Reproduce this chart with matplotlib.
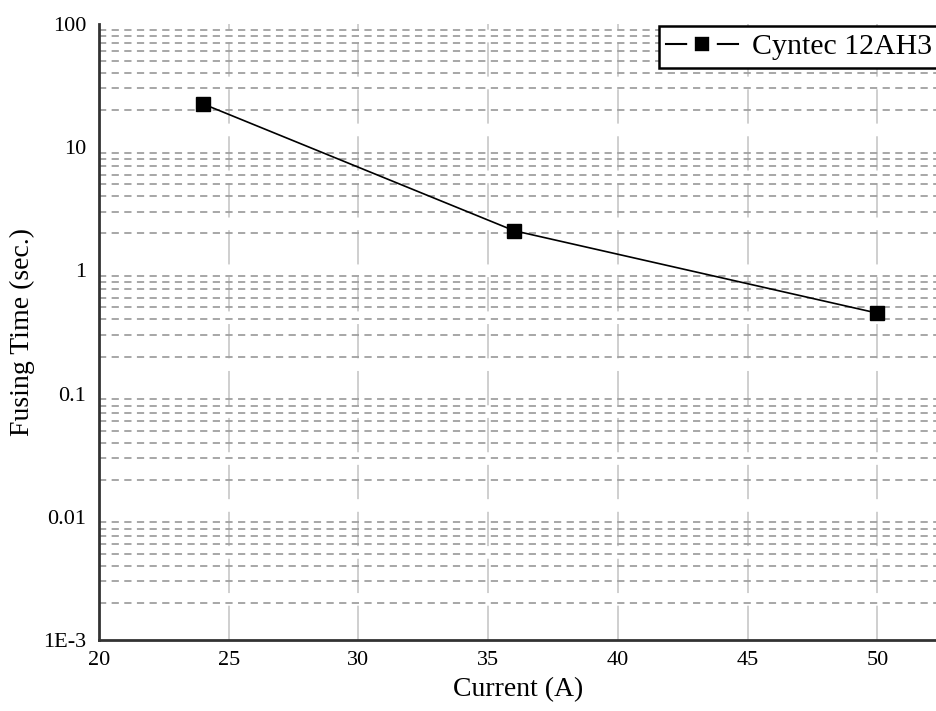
import matplotlib
matplotlib.use('Agg')
import matplotlib.pyplot as plt
from matplotlib.lines import Line2D
from matplotlib.ticker import FixedLocator, LogLocator, NullFormatter

plt.rcParams['font.family'] = ['Liberation Serif', 'DejaVu Serif']

# data
current = [24, 36, 50]
fusing_time = [22.5, 2.1, 0.45]
series_label = 'Cyntec 12AH3'
y_ticks = [1e-3, 0.01, 0.1, 1, 10, 100]
y_tick_labels = ['1E-3', '0.01', '0.1', '1', '10', '100']
x_ticks = [20, 25, 30, 35, 40, 45, 50]

fig = plt.figure(figsize=(9.37, 7.11), dpi=100)
ax = fig.add_axes([99 / 937, 1 - 640 / 711, 1 - 99 / 937, (640 - 24) / 711])

ax.set_yscale('log')
ax.set_xlim(20, 52.3)
ax.set_ylim(1e-3, 100)

# grid: horizontal dashed at minor log ticks, vertical light gray at majors
ax.yaxis.set_minor_locator(LogLocator(base=10, subs=range(2, 10)))
ax.yaxis.set_minor_formatter(NullFormatter())
ax.yaxis.set_major_locator(FixedLocator(y_ticks))
ax.set_yticklabels(y_tick_labels)
ax.set_xticks(x_ticks)
ax.grid(True, which='minor', axis='y', color='#a0a0a0', linestyle=(0, (4, 3)), linewidth=1.3)
ax.grid(True, which='major', axis='x', color='#cccccc', linestyle=(0, (19, 7)), linewidth=1.3)
ax.set_axisbelow(True)

ax.plot(current, fusing_time, color='black', linewidth=1.2, marker='s',
        markersize=10, markerfacecolor='black', zorder=3)

for side in ['top', 'right']:
    ax.spines[side].set_visible(False)
for side in ['left', 'bottom']:
    ax.spines[side].set_linewidth(2)
    ax.spines[side].set_color('#333333')

ax.tick_params(which='both', length=0, labelsize=16, colors='black')
ax.tick_params(axis='x', pad=8)
ax.tick_params(axis='y', pad=9)
ax.set_xlabel('Current (A)', fontsize=20, labelpad=5)
ax.set_ylabel('Fusing Time (sec.)', fontsize=20, labelpad=6)

# legend handle: line - gap - square - gap - line
proxy = Line2D([], [], color='black', linewidth=1.5, marker='s', markersize=16,
               markerfacecolor='black', markeredgecolor='white', markeredgewidth=5.5)
leg = ax.legend([proxy], [series_label], loc='upper left', fontsize=21.5,
                bbox_to_anchor=(659 / 937, 1 - 26 / 711), bbox_transform=fig.transFigure,
                fancybox=False, framealpha=1, edgecolor='black', borderaxespad=0,
                handlelength=2.4, handletextpad=0.45, borderpad=0.25)
leg.get_frame().set_linewidth(1.8)

fig.savefig('out.png', dpi=100)
